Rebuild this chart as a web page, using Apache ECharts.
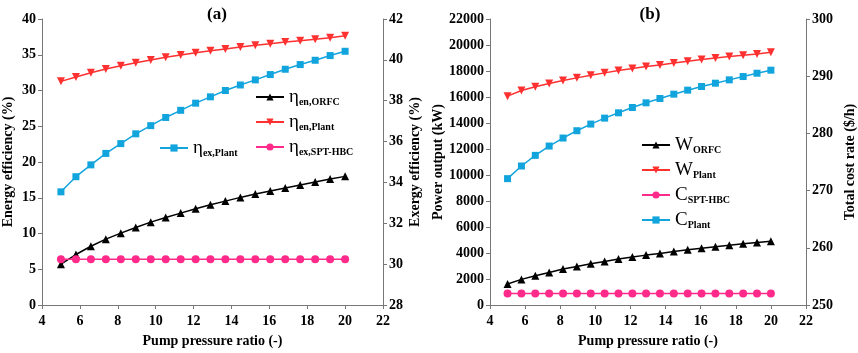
<!DOCTYPE html>
<html>
<head>
<meta charset="utf-8">
<script src="https://cdn.jsdelivr.net/npm/echarts@6/dist/echarts.min.js"></script>
<style>
  html, body { margin: 0; padding: 0; background: #fff; }
  #chart { width: 858px; height: 353px; }
</style>
</head>
<body>
<div id="chart"></div>
<script>
// pump pressure ratio (x)
const pr = [5, 5.79, 6.58, 7.37, 8.16, 8.95, 9.74, 10.53, 11.32, 12.11, 12.89, 13.68, 14.47, 15.26, 16.05, 16.84, 17.63, 18.42, 19.21, 20]

// (a) efficiencies
const etaEnORFC = [5.70, 7.06, 8.22, 9.21, 10.05, 10.84, 11.59, 12.24, 12.85, 13.46, 14.02, 14.53, 15.05, 15.51, 15.93, 16.36, 16.78, 17.20, 17.62, 17.99]
const etaEnPlant = [31.28, 31.89, 32.49, 33.01, 33.47, 33.89, 34.27, 34.64, 34.97, 35.29, 35.57, 35.80, 36.08, 36.32, 36.55, 36.78, 36.97, 37.16, 37.39, 37.67]
const etaExSPT = [30.24, 30.24, 30.24, 30.24, 30.24, 30.24, 30.24, 30.24, 30.24, 30.24, 30.24, 30.24, 30.24, 30.24, 30.24, 30.24, 30.24, 30.24, 30.24, 30.24]
const etaExPlant = [33.54, 34.28, 34.86, 35.42, 35.90, 36.38, 36.78, 37.18, 37.53, 37.88, 38.19, 38.50, 38.77, 39.02, 39.28, 39.54, 39.77, 39.98, 40.21, 40.42]

// (b) power output and cost rate
const wORFC = [1612, 1970, 2251, 2507, 2763, 2967, 3172, 3351, 3530, 3684, 3837, 3965, 4118, 4246, 4374, 4477, 4604, 4707, 4809, 4911]
const wPlant = [16066, 16500, 16782, 17038, 17268, 17472, 17677, 17856, 18035, 18189, 18342, 18470, 18623, 18751, 18879, 19007, 19109, 19212, 19314, 19442]
const cSPT = [252, 252, 252, 252, 252, 252, 252, 252, 252, 252, 252, 252, 252, 252, 252, 252, 252, 252, 252, 252]
const cPlant = [272.09, 274.30, 276.16, 277.79, 279.19, 280.47, 281.63, 282.67, 283.60, 284.53, 285.35, 286.10, 286.86, 287.56, 288.20, 288.78, 289.36, 289.94, 290.52, 291.05]

const FONT = 'Liberation Serif'
const BLACK = '#000000'
const RED = '#ff3030'
const PINK = '#ff2a8a'
const BLUE = '#12a4dc'
const DOWN = 'path://M0,0 L10,0 L5,9 Z'

// legend labels with subscripts
const legendLabels = {
  enORFC: '{m|η}{s|en,ORFC}',
  enPlant: '{m|η}{s|en,Plant}',
  exSPT: '{m|η}{s|ex,SPT-HBC}',
  exPlant: '{m|η}{s|ex,Plant}',
  wORFC: '{m|W}{s|ORFC}',
  wPlant: '{m|W}{s|Plant}',
  cSPT: '{m|C}{s|SPT-HBC}',
  cPlant: '{m|C}{s|Plant}'
}

const pairs = (ys) => pr.map((x, i) => [x, ys[i]])

const legendText = {
  fontFamily: FONT,
  color: BLACK,
  rich: {
    m: { fontFamily: FONT, fontSize: 19, color: BLACK, verticalAlign: 'bottom', lineHeight: 20 },
    s: { fontFamily: FONT, fontSize: 10, fontWeight: 'bold', color: BLACK, verticalAlign: 'bottom', lineHeight: 20, padding: [10, 0, 0, 0] }
  }
}

const baseLegend = {
  orient: 'vertical',
  itemWidth: 28,
  itemHeight: 9,
  itemGap: 5,
  formatter: name => legendLabels[name],
  textStyle: legendText
}

const tickLabel = { fontFamily: FONT, fontSize: 14, fontWeight: 'bold', color: BLACK }
const nameStyle = { fontFamily: FONT, fontSize: 14, fontWeight: 'bold', color: BLACK }
const axisLine = { show: true, lineStyle: { color: '#777', width: 1 } }
const axisTick = { show: true, inside: false, length: 4, lineStyle: { color: '#777' } }

const xAxisCommon = {
  type: 'value',
  min: 4,
  max: 22,
  interval: 2,
  name: 'Pump pressure ratio (-)',
  nameLocation: 'middle',
  nameGap: 29,
  nameTextStyle: nameStyle,
  axisLine: axisLine,
  axisTick: axisTick,
  axisLabel: Object.assign({ margin: 9 }, tickLabel),
  splitLine: { show: false }
}

const yAxisCommon = (extra) => Object.assign({
  type: 'value',
  nameLocation: 'middle',
  nameRotate: 90,
  nameTextStyle: nameStyle,
  axisLine: axisLine,
  axisTick: axisTick,
  axisLabel: Object.assign({ margin: 6, formatter: v => String(v) }, tickLabel),
  splitLine: { show: false }
}, extra)

const lineSeries = (name, xi, yi, ys, color, symbol, size, z) => ({
  name: name,
  type: 'line',
  xAxisIndex: xi,
  yAxisIndex: yi,
  data: pairs(ys),
  symbol: symbol,
  symbolSize: size,
  showSymbol: true,
  z: z,
  lineStyle: { color: color, width: 1.5 },
  itemStyle: { color: color },
  animation: false
})

const chart = echarts.init(document.getElementById('chart'))

chart.setOption({
  backgroundColor: '#fff',
  animation: false,
  title: [
    { text: '(a)', left: 212, top: 1, textAlign: 'center', textStyle: { fontFamily: FONT, fontSize: 17, fontWeight: 'bold', color: BLACK } },
    { text: '(b)', left: 645, top: 1, textAlign: 'center', textStyle: { fontFamily: FONT, fontSize: 17, fontWeight: 'bold', color: BLACK } }
  ],
  grid: [
    { left: 40, right: 475, top: 19, bottom: 47 },
    { left: 490, right: 45, top: 19, bottom: 47 }
  ],
  xAxis: [
    Object.assign({ gridIndex: 0 }, xAxisCommon),
    Object.assign({ gridIndex: 1 }, xAxisCommon)
  ],
  yAxis: [
    yAxisCommon({ gridIndex: 0, position: 'left', min: 0, max: 40, interval: 5, name: 'Energy efficiency (%)', nameGap: 27 }),
    yAxisCommon({ gridIndex: 0, position: 'right', min: 28, max: 42, interval: 2, name: 'Exergy efficiency (%)', nameGap: 25 }),
    yAxisCommon({ gridIndex: 1, position: 'left', min: 0, max: 22000, interval: 2000, name: 'Power output (kW)', nameGap: 41 }),
    yAxisCommon({ gridIndex: 1, position: 'right', min: 250, max: 300, interval: 10, name: 'Total cost rate ($/h)', nameGap: 37 })
  ],
  legend: [
    Object.assign({}, baseLegend, { left: 250, top: 82, data: ['enORFC', 'enPlant', 'exSPT'] }),
    Object.assign({}, baseLegend, { left: 154, top: 133, data: ['exPlant'] }),
    Object.assign({}, baseLegend, { left: 636, top: 130, itemGap: 5, data: ['wORFC', 'wPlant', 'cSPT', 'cPlant'] })
  ],
  series: [
    lineSeries('enORFC', 0, 0, etaEnORFC, BLACK, 'triangle', 8, 3),
    lineSeries('enPlant', 0, 0, etaEnPlant, RED, DOWN, 8, 3),
    lineSeries('exSPT', 0, 1, etaExSPT, PINK, 'circle', 8, 4),
    lineSeries('exPlant', 0, 1, etaExPlant, BLUE, 'rect', 7, 3),
    lineSeries('wORFC', 1, 2, wORFC, BLACK, 'triangle', 8, 3),
    lineSeries('wPlant', 1, 2, wPlant, RED, DOWN, 8, 3),
    lineSeries('cSPT', 1, 3, cSPT, PINK, 'circle', 8, 4),
    lineSeries('cPlant', 1, 3, cPlant, BLUE, 'rect', 7, 3)
  ]
})
</script>
</body>
</html>
